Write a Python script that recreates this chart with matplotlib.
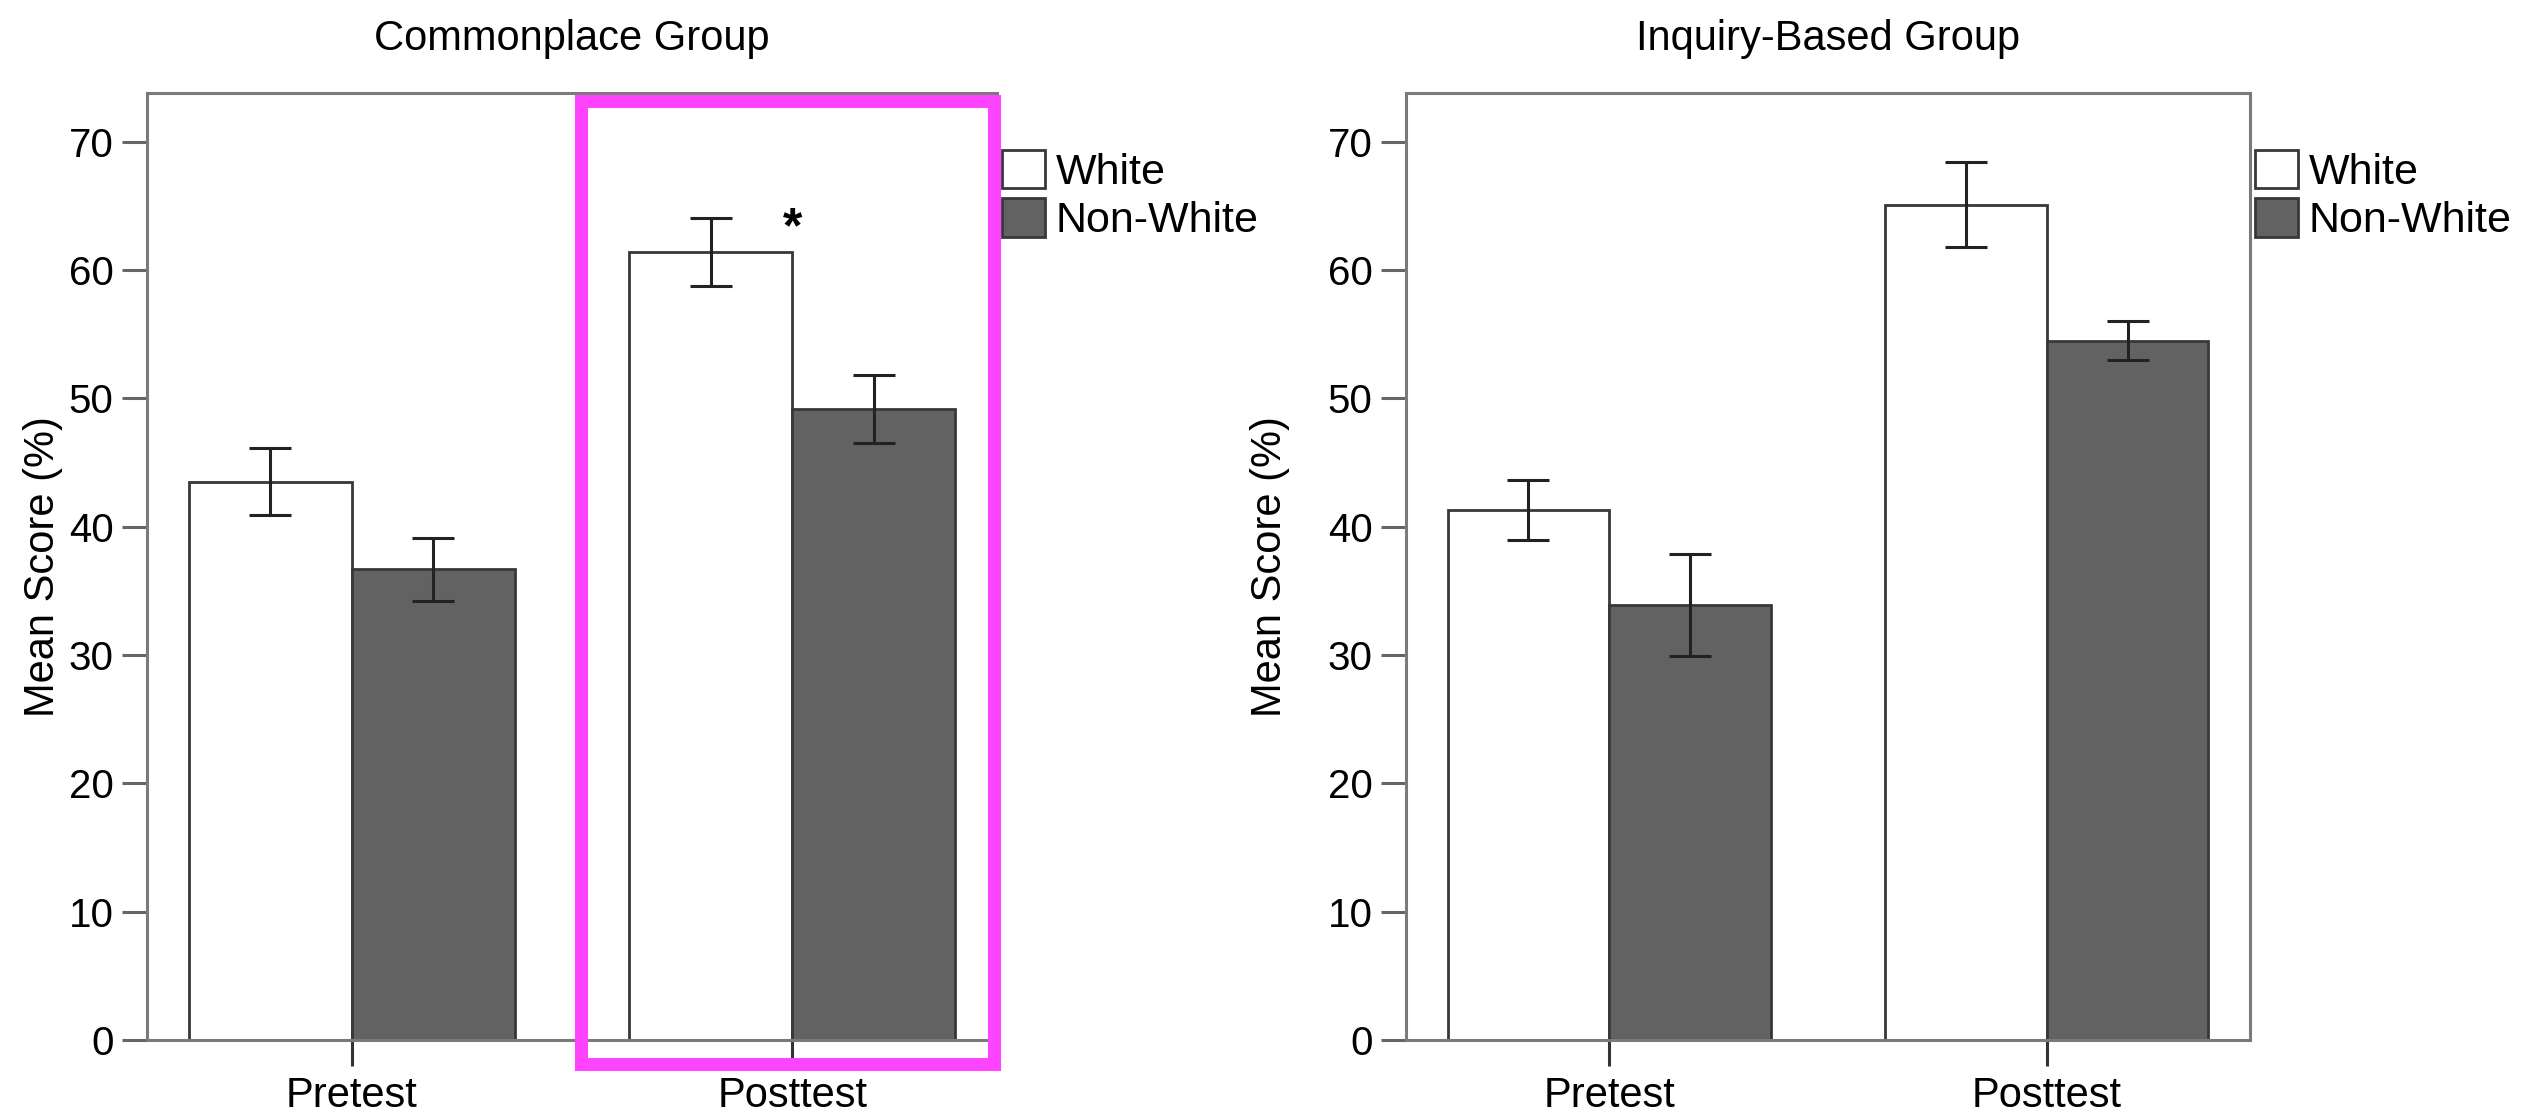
import matplotlib
matplotlib.use("Agg")
import matplotlib.pyplot as plt
from matplotlib.patches import Patch, Rectangle
import numpy as np

plt.rcParams['font.family'] = ['Liberation Sans', 'DejaVu Sans']

# ---- data ----
categories = ["Pretest", "Posttest"]
series_names = ["White", "Non-White"]
panel_titles = ["Commonplace Group", "Inquiry-Based Group"]

common_white = [43.5, 61.4]
common_white_err = [2.6, 2.65]
common_nonwhite = [36.7, 49.2]
common_nonwhite_err = [2.45, 2.65]

inquiry_white = [41.3, 65.1]
inquiry_white_err = [2.35, 3.3]
inquiry_nonwhite = [33.9, 54.5]
inquiry_nonwhite_err = [4.0, 1.5]

yticks = [0, 10, 20, 30, 40, 50, 60, 70]
star_label = "*"

# ---- styling ----
white_color = "#ffffff"
nonwhite_color = "#626262"
edge_color = "#383838"
spine_color = "#7a7a7a"
magenta = "#ff44ff"

fig = plt.figure(figsize=(25.4, 11.13), dpi=100)
ax1 = fig.add_axes([147/2540, 1-1040/1113, 850/2540, 947/1113])
ax2 = fig.add_axes([1406/2540, 1-1040/1113, 844/2540, 947/1113])

panels = [
    (ax1, panel_titles[0], common_white, common_white_err, common_nonwhite, common_nonwhite_err, 4),
    (ax2, panel_titles[1], inquiry_white, inquiry_white_err, inquiry_nonwhite, inquiry_nonwhite_err, 27),
]

width = 0.37
x = np.arange(len(categories))
for ax, title, w, we, nw, nwe, lpad in panels:
    ax.bar(x - width/2, w, width, color=white_color, edgecolor=edge_color, linewidth=2.0, zorder=2)
    ax.bar(x + width/2, nw, width, color=nonwhite_color, edgecolor=edge_color, linewidth=2.0, zorder=2)
    ax.errorbar(x - width/2, w, yerr=we, fmt='none', ecolor='#222222', elinewidth=2.2,
                capsize=15, capthick=2.2, zorder=3)
    ax.errorbar(x + width/2, nw, yerr=nwe, fmt='none', ecolor='#222222', elinewidth=2.2,
                capsize=15, capthick=2.2, zorder=3)
    ax.set_xlim(-0.465, 1.465)
    ax.set_ylim(0, 73.8)
    ax.set_yticks(yticks)
    ax.set_xticks(x)
    ax.set_xticklabels(categories, fontsize=30)
    ax.tick_params(axis='y', labelsize=29, length=18, width=2.2, color='#666666', pad=6)
    ax.tick_params(axis='x', labelsize=30, length=19, width=2.2, color='#333333', pad=7)
    for s in ax.spines.values():
        s.set_color(spine_color)
        s.set_linewidth(2.2)
    ax.set_ylabel("Mean Score (%)", fontsize=30, labelpad=lpad)
    ax.set_title(title, fontsize=30, pad=31)
    handles = [Patch(facecolor=white_color, edgecolor=edge_color, linewidth=2.0),
               Patch(facecolor=nonwhite_color, edgecolor=edge_color, linewidth=2.0)]
    ax.legend(handles, series_names, loc='upper left', bbox_to_anchor=(1.006, 0.94),
              frameon=False, fontsize=31, handlelength=1.0, handleheight=1.0,
              handletextpad=0.25, labelspacing=0.12, borderpad=0, borderaxespad=0)

# significance marker
ax1.text(1.0, 62.2, star_label, ha='center', va='baseline', fontsize=36,
         fontweight='bold', zorder=4)

# magenta highlight box
fig.patches.append(Rectangle((581/2540, 1-1063.5/1113), (993.5-581)/2540, (1063.5-100.5)/1113,
                             transform=fig.transFigure, fill=False, edgecolor=magenta,
                             linewidth=9.4, zorder=10))

fig.savefig("out.png", dpi=100)
